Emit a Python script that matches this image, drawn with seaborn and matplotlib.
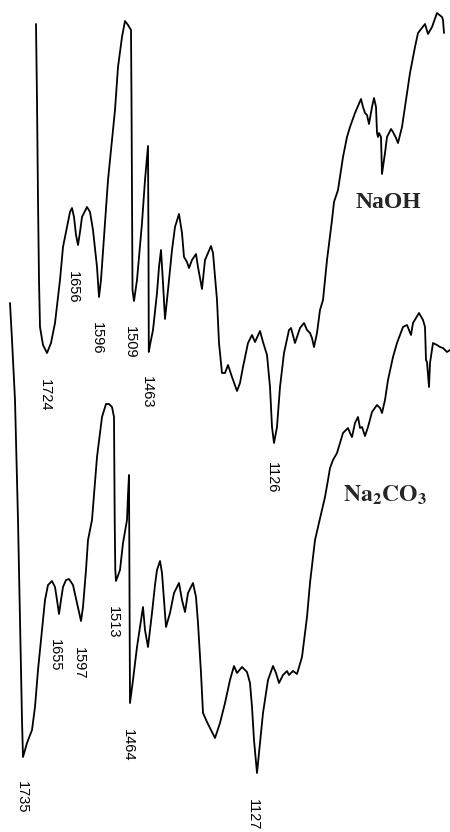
import numpy as np
import pandas as pd
import matplotlib
matplotlib.use("Agg")
import matplotlib.pyplot as plt
import seaborn as sns

# trazas (posicion horizontal, posicion vertical)
naoh_x = [36, 37, 38, 39, 40, 43, 47, 51, 55, 60, 63, 67, 70, 72, 74, 76, 78, 80, 82, 87, 90, 93,
          97, 99, 101, 105, 108, 115, 118, 122, 125, 128, 131, 131.5, 132, 132.5, 134, 137,
          142, 145, 148, 148.5, 148.8, 150, 153, 157, 159, 161, 163, 165, 168, 172, 175, 179,
          182, 184, 187, 189, 192, 196, 198, 202, 205, 211, 213, 217, 219, 222, 225, 228,
          232, 237, 240, 243, 248, 252, 255, 260, 263, 267, 270, 272, 274, 277, 280, 284,
          289, 291, 295, 300, 304, 307, 310, 312, 314, 317, 320, 323, 327, 332, 334, 338,
          343, 347, 350, 355, 361, 363, 365, 367, 369, 372, 374, 376, 377, 378, 379, 381,
          382, 385, 387, 391, 393, 396, 398, 402, 406, 410, 415, 418, 425, 428, 432, 437,
          442, 443, 444]
naoh_y = [24, 100, 200, 280, 327, 345, 353, 343, 323, 280, 247, 227, 212, 208, 217, 235, 245, 232, 217, 207, 212, 230,
          267, 297, 280, 223, 180, 110, 67, 37, 21, 25, 30, 100, 200, 290, 301, 280,
          223, 180, 146, 250, 352, 345, 330, 293, 267, 250, 283, 319, 290, 250, 227, 214,
          233, 257, 262, 268, 260, 254, 267, 289, 260, 246, 253, 300, 343, 373, 373, 365,
          377, 391, 383, 367, 343, 335, 342, 331, 342, 355, 387, 427, 443, 427, 387, 353,
          330, 328, 343, 328, 323, 330, 333, 338, 347, 333, 310, 300, 260, 220, 202, 190,
          157, 137, 127, 113, 99, 107, 113, 115, 124, 107, 98, 107, 133, 137, 133, 137,
          174, 153, 137, 129, 132, 138, 143, 127, 100, 73, 47, 33, 24, 34, 27, 13,
          17, 20, 33]

naco_x = [10, 12, 15, 18, 20, 22, 23, 27, 32, 35, 38, 42, 45, 48, 52, 55, 57, 59, 61, 63, 66,
          69, 73, 77, 81, 83, 86, 88, 92, 97, 102, 106, 109, 112, 114, 114.7, 115.3, 116, 120,
          123, 127, 128, 129, 129.5, 130, 133, 137, 143, 145, 148, 152, 155, 157, 160, 162,
          164, 166, 170, 174, 179, 182, 185, 188, 193, 196, 198, 201, 203, 207, 211, 215,
          220, 225, 230, 234, 237, 242, 247, 250, 252, 254, 257, 259, 263, 268, 273, 276,
          279, 283, 287, 289, 293, 297, 302, 307, 310, 315, 318, 322, 325, 328, 330, 333,
          337, 340, 343, 348, 350, 352, 355, 358, 360, 362, 363, 365, 368, 372, 377, 380,
          382, 385, 388, 393, 397, 403, 407, 411, 413, 419, 423, 425, 426, 427, 429, 430,
          433, 437, 440, 443, 447, 450]
naco_y = [303, 340, 400, 520, 620, 720, 757, 743, 730, 707, 670, 630, 600, 585, 581, 587, 600, 614, 600, 587, 580,
          579, 585, 603, 621, 607, 570, 540, 520, 457, 417, 404, 404, 407, 417, 520, 570, 581, 570,
          543, 520, 495, 475, 600, 703, 680, 647, 607, 630, 647, 613, 585, 570, 561, 573,
          600, 627, 613, 593, 583, 600, 612, 593, 583, 597, 623, 673, 713, 722, 730, 738,
          723, 703, 680, 666, 673, 667, 672, 683, 707, 740, 773, 753, 713, 680, 666, 673,
          683, 675, 671, 675, 671, 674, 657, 617, 583, 540, 527, 510, 497, 480, 468, 460,
          453, 443, 433, 428, 433, 437, 423, 417, 428, 427, 430, 436, 427, 412, 405, 408,
          413, 400, 380, 357, 343, 327, 325, 335, 323, 313, 320, 327, 360, 362, 387, 363,
          343, 345, 347, 348, 352, 350]

# numeros de bandas y su lugar
band_labels = ["1724", "1656", "1596", "1509", "1463", "1126",
               "1735", "1655", "1597", "1513", "1464", "1127"]
band_x = [45, 73, 97, 130, 147, 272, 22, 55, 79, 113, 128, 253]
band_y = [395, 287, 338, 342, 392, 478, 797, 655, 663, 622, 745, 815]

df = pd.concat([
    pd.DataFrame({"x": naoh_x, "y": naoh_y, "muestra": "NaOH"}),
    pd.DataFrame({"x": naco_x, "y": naco_y, "muestra": "Na2CO3"}),
])

sns.set_style("white")
plt.rcParams["mathtext.fontset"] = "stix"

fig = plt.figure(figsize=(4.5, 8.32), dpi=100)
ax = fig.add_axes([0, 0, 1, 1])
sns.lineplot(data=df, x="x", y="y", units="muestra", estimator=None, sort=False,
             color="black", linewidth=1.3, ax=ax)
for ln in ax.lines:
    ln.set_solid_joinstyle("round")

for lab, bx, by in zip(band_labels, band_x, band_y):
    ax.text(bx, by, lab, rotation=270, ha="center", va="center",
            fontsize=10.5, family=["Liberation Sans", "DejaVu Sans"], color="black")

ax.text(388, 202, "NaOH", ha="center", va="center", fontsize=17,
        fontweight="bold", family="Liberation Serif")
ax.text(385, 495, r"$\mathbf{Na_2CO_3}$", ha="center", va="center", fontsize=17)

ax.set_xlim(0, 450)
ax.set_ylim(832, 0)
ax.axis("off")
fig.savefig("out.png", dpi=100)
